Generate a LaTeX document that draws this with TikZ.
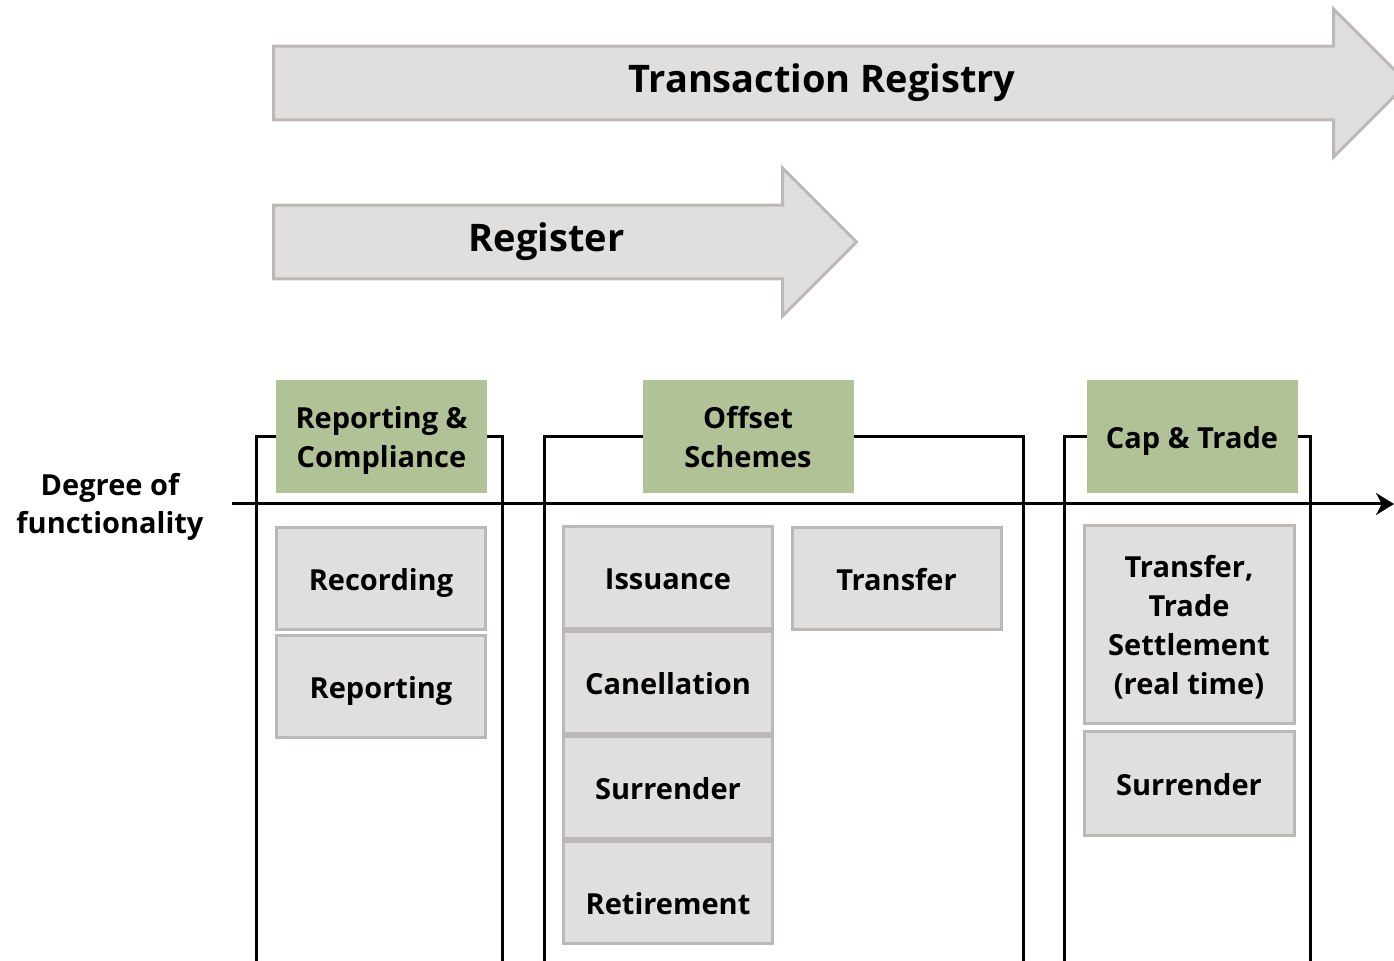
\documentclass[tikz,border=0pt]{standalone}
\usepackage{fontspec}
\setmainfont{Open Sans}
\usetikzlibrary{positioning,shapes.arrows,arrows.meta}
\definecolor{boxgray}{HTML}{E0DFDE}
\definecolor{boxedge}{HTML}{BDB8B8}
\definecolor{labgreen}{HTML}{B1C297}
\tikzset{
  phase/.style={single arrow, draw=boxedge, fill=boxgray, line width=1.5pt,
    minimum width=74pt, single arrow head extend=10.3pt, inner sep=0pt,
    anchor=tail, font=\fontsize{19}{23}\selectfont\bfseries},
  scheme/.style={fill=labgreen, minimum width=105.5pt, minimum height=56.5pt,
    align=center, inner sep=0pt, text depth=0pt,
    font=\fontsize{14.5}{19.5}\selectfont\bfseries},
  func/.style={draw=boxedge, fill=boxgray, line width=1.5pt,
    minimum width=104.5pt, minimum height=51pt, align=center, inner sep=0pt,
    font=\fontsize{14.5}{19.5}\selectfont\bfseries},
  oneline/.style={func, text height=12pt, text depth=0pt},
  column/.style={line width=1.5pt},
}
\begin{document}
\begin{tikzpicture}[x=0.5pt,y=-0.5pt]
  \useasboundingbox (0,0) rectangle (1394,961);
  % phases
  \node[phase, minimum height=567pt] (registry) at (272,83) {Transaction Registry};
  \node[phase, minimum height=291.5pt] (register) at (272,242) {Register};
  % axis
  \coordinate (axstart) at (232,504);
  \coordinate (axend) at (1394,504);
  \draw[column, -{Stealth[length=9pt,width=11pt]}] (axstart) -- (axend);
  \node[align=center, text depth=0pt, font=\fontsize{14.5}{19}\selectfont\bfseries]
    (degree) at (110,503) {Degree of\\functionality};
  % columns
  \draw[column] (256,975) |- (502,437) -- (502,975);
  \draw[column] (544,975) |- (1023,437) -- (1023,975);
  \draw[column] (1064,975) |- (1310,437) -- (1310,975);
  \node[scheme] (report) at (381.5,436.5) {Reporting \&\\Compliance};
  \node[scheme] (offset) at (748,436.5) {Offset\\Schemes};
  \node[scheme, text height=12pt] (cap) at (1192,436.5) {Cap \& Trade};
  % functions
  \node[oneline] (recording) at (381,578.5) {Recording};
  \node[oneline, below=1.5pt of recording] (reporting) {Reporting};
  \node[oneline] (issuance) at (668,578) {Issuance};
  \node[oneline, below=0pt of issuance] (cancel) {Canellation};
  \node[oneline, below=0pt of cancel] (surrender) {Surrender};
  \node[oneline, text height=22pt, below=0pt of surrender] (retire) {Retirement};
  \node[oneline] (transfer) at (896.5,579) {Transfer};
  \node[func, text depth=0pt, minimum width=105pt, minimum height=99pt]
    (trade) at (1189,624.5) {Transfer,\\Trade\\Settlement\\(real time)};
  \node[oneline, minimum width=105pt, minimum height=52pt, below=2.5pt of trade]
    (capsurrender) {Surrender};
\end{tikzpicture}
\end{document}
